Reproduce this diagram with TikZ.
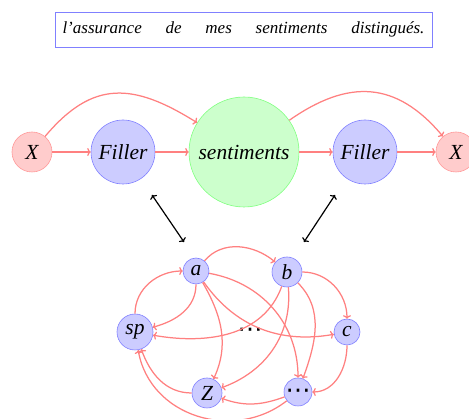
\documentclass[tikz,border=0pt]{standalone}
\usepackage{fontspec}
\setmainfont{Liberation Serif}
\newfontfamily\dotsfont{DejaVu Sans}
\usetikzlibrary{arrows.meta}
\definecolor{linkred}{RGB}{255,128,128}
% centred ellipsis, its dots placed on the node centre
\newcommand{\middots}{\smash{\raisebox{-7pt}{\dotsfont\fontsize{25}{25}\selectfont ⋯}}}
\begin{document}
\begin{tikzpicture}[x=1pt,y=-1pt,
  word/.style={circle, inner sep=0pt, font=\fontsize{21.5}{24}\selectfont\itshape},
  filler/.style={word, draw=blue!50, fill=blue!20, line width=0.6pt},
  xnode/.style={word, draw=red!40, fill=red!20, line width=0.6pt},
  focus/.style={word, draw=green!50, fill=green!20, line width=0.6pt},
  small/.style={filler},
  link/.style={draw=linkred, line width=1.25pt, -{To[length=3.5pt,width=8pt]}},
  pair/.style={draw=black, line width=1.2pt, {To[length=3.5pt,width=8pt]}-{To[length=3.5pt,width=8pt]}}]
\useasboundingbox (0,0) rectangle (469,419);

% handwritten sentence in a frame
\node[rectangle, draw=blue!50, line width=0.8pt, minimum width=377pt, minimum height=35pt, inner sep=0pt] (note) at (243.5,29.5)
  {\fontsize{17}{19}\selectfont\itshape\makebox[362pt][s]{l'assurance de mes sentiments distingués.}};

% upper chain
\node[xnode, minimum size=40pt] (X1) at (32,152) {X};
\node[filler, minimum size=64pt] (F1) at (123,152) {Filler};
\node[focus, minimum size=110pt] (S) at (244,152) {sentiments};
\node[filler, minimum size=64pt] (F2) at (365,152) {Filler};
\node[xnode, minimum size=40pt] (X2) at (456,152) {X};

\draw[link] (X1) -- (F1);
\draw[link] (F1) -- (S);
\draw[link] (S) -- (F2);
\draw[link] (F2) -- (X2);
\draw[link] (X1) to[out=50, in=148, looseness=1.25] (S);
\draw[link] (S) to[out=35, in=130, looseness=1.2] (X2);

% links between the two levels
\coordinate (up1) at (152,195);
\coordinate (dn1) at (184,242);
\coordinate (up2) at (335,195);
\coordinate (dn2) at (304,242);
\draw[pair] (up1) -- (dn1);
\draw[pair] (up2) -- (dn2);

% lower graph
\node[small, minimum size=26pt] (a) at (196,271) {a};
\node[small, minimum size=30pt] (b) at (287,272) {b};
\node[small, minimum size=36pt] (sp) at (135,332) {sp};
\node[small, minimum size=26pt] (c) at (347,332) {c};
\node[small, minimum size=30pt] (Z) at (207,393) {Z};
\node[small, minimum size=28pt] (d) at (298,392) {\middots};
\node[inner sep=0pt] (etc) at (250,331) {\middots};

\draw[link] (a) to[out=50, in=140] (b);
\draw[link] (sp) to[out=90, in=180] (a);
\draw[link] (a) to[out=-90, in=15] (sp);
\draw[link] (a) to[out=-60, in=65] (Z);
\draw[link] (a) to[out=-55, in=190] (c);
\draw[link] (a) to[out=-10, in=90] (d);
\draw[link] (b) to[out=0, in=90] (c);
\draw[link] (b) to[out=-110, in=-10] (sp);
\draw[link] (b) to[out=-85, in=20] (Z);
\draw[link] (b) to[out=-45, in=70] (d);
\draw[link] (c) to[out=-90, in=0] (d);
\draw[link] (Z) to[out=180, in=-70] (sp);
\draw[link] (d) to[out=200, in=-20] (Z);
\draw[link] (d) to[out=218, in=-80, looseness=1.1] (sp);
\end{tikzpicture}
\end{document}
